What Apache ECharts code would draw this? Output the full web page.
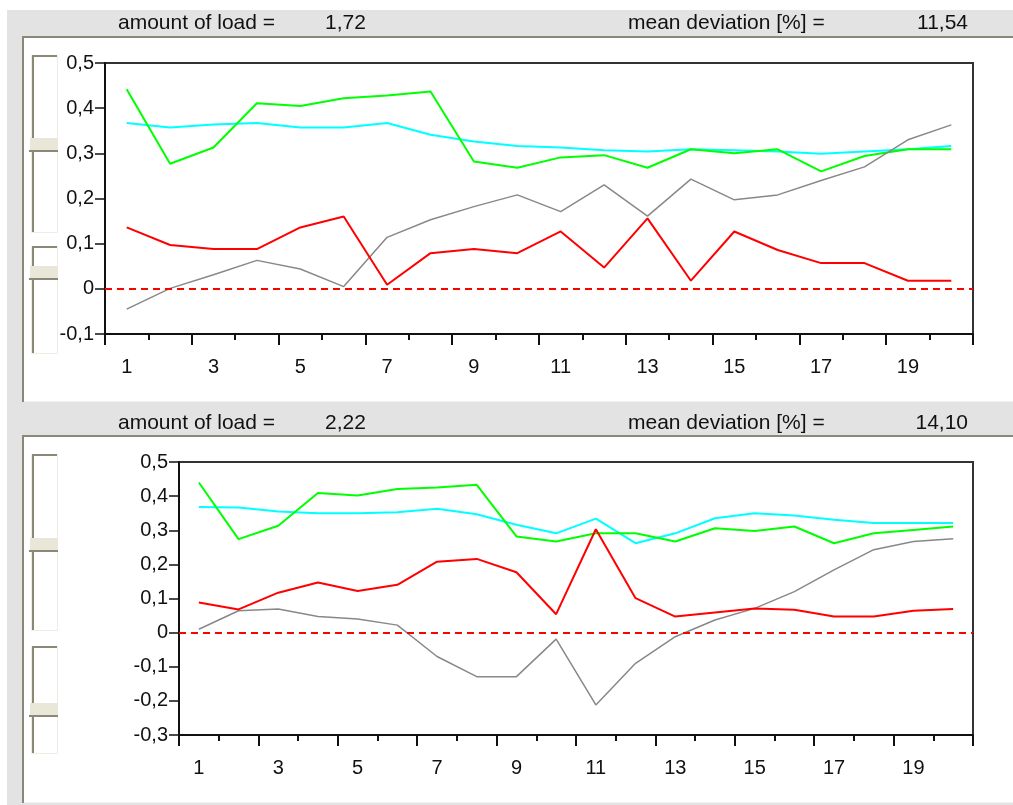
<!DOCTYPE html>
<html>
<head>
<meta charset="utf-8">
<script src="https://cdn.jsdelivr.net/npm/echarts/dist/echarts.min.js"></script>
<style>
html,body{margin:0;padding:0;background:#fff;}
#chart{width:1013px;height:805px;}
</style>
</head>
<body>
<div id="chart"></div>
<script>
const categories = ['1','2','3','4','5','6','7','8','9','10','11','12','13','14','15','16','17','18','19','20'];

const topHeader = ['amount of load =', '1,72', 'mean deviation [%] =', '11,54'];
const bottomHeader = ['amount of load =', '2,22', 'mean deviation [%] =', '14,10'];

const topYTicks = [-0.1, 0.5, 0.1];
const bottomYTicks = [-0.3, 0.5, 0.1];

const topGreen = [0.442,0.277,0.313,0.411,0.405,0.422,0.428,0.437,0.282,0.268,0.291,0.296,0.268,0.309,0.300,0.309,0.260,0.294,0.309,0.309];
const topCyan  = [0.367,0.357,0.364,0.367,0.357,0.357,0.367,0.341,0.326,0.316,0.313,0.307,0.304,0.309,0.307,0.304,0.299,0.304,0.309,0.316];
const topRed   = [0.136,0.097,0.088,0.088,0.136,0.160,0.009,0.079,0.088,0.079,0.127,0.047,0.156,0.018,0.127,0.086,0.057,0.057,0.018,0.018];
const topGray  = [-0.045,0.001,0.031,0.063,0.044,0.005,0.114,0.153,0.182,0.208,0.171,0.230,0.161,0.243,0.197,0.208,0.240,0.270,0.330,0.363];

const bottomGreen = [0.440,0.274,0.313,0.409,0.402,0.421,0.425,0.433,0.282,0.267,0.291,0.291,0.267,0.306,0.298,0.311,0.262,0.291,0.301,0.311];
const bottomCyan  = [0.368,0.367,0.355,0.350,0.350,0.353,0.363,0.347,0.316,0.291,0.334,0.262,0.291,0.335,0.350,0.343,0.331,0.321,0.321,0.321];
const bottomRed   = [0.088,0.068,0.117,0.147,0.122,0.140,0.208,0.216,0.177,0.054,0.303,0.101,0.047,0.059,0.071,0.067,0.047,0.047,0.064,0.069];
const bottomGray  = [0.010,0.064,0.069,0.047,0.040,0.022,-0.070,-0.129,-0.129,-0.019,-0.212,-0.090,-0.012,0.037,0.071,0.120,0.184,0.243,0.267,0.275];

const FONT = '"Liberation Sans", Arial, sans-serif';
const DARK = '#8b8878';
const GRAYBG = '#e3e3e3';

function fmt(v){
  if (Math.abs(v) < 1e-9) return '0';
  return v.toFixed(1).replace('.', ',');
}

const chart = echarts.init(document.getElementById('chart'), null, {renderer:'canvas'});

function rect(x,y,w,h,fill,z){
  return {type:'rect', shape:{x:x,y:y,width:w,height:h}, style:{fill:fill}, z:(z===undefined?-10:z), silent:true};
}
function slider(top, thumb, bottom){
  return [
    {type:'rect', shape:{x:31.5,y:top+0.5,width:26,height:bottom-top}, style:{fill:'#ffffff',stroke:'#efede2',lineWidth:1}, z:-9, silent:true},
    rect(32, top, 25, 2, DARK, -8),
    rect(32, top, 2, bottom-top, DARK, -8),
    rect(30, thumb, 28, 12, '#e9e7d8', -7),
    rect(29, thumb+12, 29, 2, DARK, -7)
  ];
}
function text(t, x, y, align){
  return {type:'text', x:x, y:y, z:10, silent:true,
    style:{text:t, font:'21px ' + FONT, fill:'#111', textAlign:align||'left', textVerticalAlign:'middle', verticalAlign:'middle'}};
}

const graphics = [].concat(
  [
    rect(7, 10, 1006, 795, GRAYBG, -12),
    // panel 1
    rect(22, 36, 991, 2, DARK, -11),
    rect(22, 36, 2, 366, DARK, -11),
    rect(24, 38, 989, 364, '#ffffff', -11),
    rect(24, 401, 989, 1, '#f3f2ec', -11),
    // panel 2
    rect(22, 435, 991, 2, DARK, -11),
    rect(22, 435, 2, 368, DARK, -11),
    rect(24, 437, 989, 365, '#ffffff', -11),
    rect(24, 802, 989, 1, '#f3f2ec', -11)
  ],
  slider(55, 138, 232),
  slider(246, 266, 353),
  slider(454, 538, 630),
  slider(646, 703, 753),
  [
    text(topHeader[0], 118, 23),
    text(topHeader[1], 325, 23),
    text(topHeader[2], 628, 23),
    text(topHeader[3], 968, 23, 'right'),
    text(bottomHeader[0], 118, 423),
    text(bottomHeader[1], 325, 423),
    text(bottomHeader[2], 628, 423),
    text(bottomHeader[3], 968, 423, 'right')
  ]
);

const axisFont = {fontFamily: FONT, fontSize: 20, color: '#111'};

function xAxes(gridIndex){
  return [
    {type:'category', gridIndex:gridIndex, data:categories, boundaryGap:true, position:'bottom',
     axisLine:{show:true, onZero:false, lineStyle:{color:'#111', width:2}},
     axisTick:{show:true, interval:0, length:6, lineStyle:{color:'#111', width:2}},
     axisLabel:Object.assign({interval:1, margin:23}, axisFont),
     splitLine:{show:false}},
    {type:'category', gridIndex:gridIndex, data:categories, boundaryGap:true, position:'bottom',
     axisLine:{show:false, onZero:false},
     axisTick:{show:true, interval:1, length:11, lineStyle:{color:'#111', width:2}},
     axisLabel:{show:false},
     splitLine:{show:false}}
  ];
}
function yAxis(gridIndex, ticks){
  return {type:'value', gridIndex:gridIndex, min:ticks[0], max:ticks[1], interval:ticks[2],
    axisLine:{show:true, lineStyle:{color:'#111', width:2}},
    axisTick:{show:true, length:10, lineStyle:{color:'#111', width:1.5}},
    axisLabel:Object.assign({margin:11, formatter:fmt}, axisFont),
    splitLine:{show:false}};
}
function line(name, data, color, width, xi, yi, extra){
  return Object.assign({type:'line', name:name, data:data, xAxisIndex:xi, yAxisIndex:yi,
    symbol:'none', smooth:false, lineStyle:{color:color, width:width}, itemStyle:{color:color},
    animation:false, silent:true}, extra||{});
}
function zeroLine(){
  return {silent:true, symbol:['none','none'], label:{show:false},
    lineStyle:{color:'#ff0000', type:[7,5], width:2}, data:[{yAxis:0}], animation:false};
}

const option = {
  animation:false,
  graphic: graphics,
  grid:[
    {left:105, top:63, width:868, height:271, show:true, borderColor:'#333', borderWidth:2, backgroundColor:'rgba(0,0,0,0)', containLabel:false},
    {left:179, top:462, width:794, height:273, show:true, borderColor:'#333', borderWidth:2, backgroundColor:'rgba(0,0,0,0)', containLabel:false}
  ],
  xAxis: xAxes(0).concat(xAxes(1)),
  yAxis: [yAxis(0, topYTicks), yAxis(1, bottomYTicks)],
  series:[
    line('cyan', topCyan, '#00ffff', 2, 0, 0),
    line('green', topGreen, '#00ff00', 2, 0, 0),
    line('gray', topGray, '#888888', 1.5, 0, 0),
    line('red', topRed, '#ff0000', 2, 0, 0, {markLine: zeroLine()}),
    line('cyan', bottomCyan, '#00ffff', 2, 2, 1),
    line('green', bottomGreen, '#00ff00', 2, 2, 1),
    line('gray', bottomGray, '#888888', 1.5, 2, 1),
    line('red', bottomRed, '#ff0000', 2, 2, 1, {markLine: zeroLine()})
  ]
};
chart.setOption(option);
</script>
</body>
</html>
